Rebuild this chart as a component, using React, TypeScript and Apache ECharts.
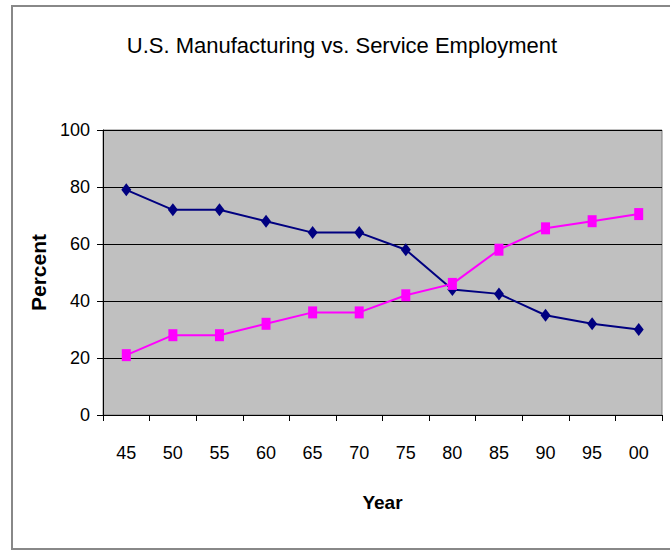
import React, { useEffect, useRef } from "react";
import * as echarts from "echarts";

const years = ["45", "50", "55", "60", "65", "70", "75", "80", "85", "90", "95", "00"];
const manufacturing = [79, 72, 72, 68, 64, 64, 58, 44, 42.5, 35, 32, 30];
const service = [21, 28, 28, 32, 36, 36, 42, 46, 58, 65.5, 68, 70.5];

const FONT = "'Liberation Sans', Arial, sans-serif";

export default function App() {
  const ref = useRef<HTMLDivElement>(null);
  useEffect(() => {
    const chart = echarts.init(ref.current!, null, { renderer: "svg" });
    chart.setOption({
      animation: false,
      backgroundColor: "#ffffff",
      title: {
        text: "U.S. Manufacturing vs. Service Employment",
        left: 337,
        top: 29,
        textAlign: "center",
        textStyle: { fontFamily: FONT, fontSize: 22, fontWeight: "normal", color: "#000" },
      },
      graphic: [
        {
          type: "rect",
          shape: { x: 12, y: 6, width: 700, height: 543 },
          style: { fill: "none", stroke: "#888", lineWidth: 2 },
          silent: true,
        },
      ],
      grid: {
        left: 103,
        right: 8,
        top: 130,
        bottom: 135,
        show: true,
        backgroundColor: "#c0c0c0",
        borderColor: "#808080",
        borderWidth: 1,
      },
      xAxis: {
        type: "category",
        data: years,
        boundaryGap: true,
        name: "Year",
        nameLocation: "middle",
        nameGap: 78,
        nameTextStyle: { fontFamily: FONT, fontSize: 19, fontWeight: "bold", color: "#000" },
        axisLine: { lineStyle: { color: "#000", width: 1 } },
        axisTick: { show: true, alignWithLabel: false, length: 6, lineStyle: { color: "#000" } },
        axisLabel: { fontFamily: FONT, fontSize: 18, color: "#000", margin: 29 },
        splitLine: { show: false },
      },
      yAxis: {
        type: "value",
        min: 0,
        max: 100,
        interval: 20,
        name: "Percent",
        nameLocation: "middle",
        nameGap: 48,
        nameRotate: 90,
        nameTextStyle: { fontFamily: FONT, fontSize: 21, fontWeight: "bold", color: "#000" },
        axisLine: { show: true, lineStyle: { color: "#000", width: 1 } },
        axisTick: { show: true, length: 6, lineStyle: { color: "#000" } },
        axisLabel: { fontFamily: FONT, fontSize: 18, color: "#000", margin: 13 },
        splitLine: { show: true, lineStyle: { color: "#000", width: 1 } },
      },
      series: [
        {
          name: "Manufacturing",
          type: "line",
          data: manufacturing,
          symbol: "diamond",
          symbolSize: [10, 13],
          itemStyle: { color: "#000080" },
          lineStyle: { color: "#000080", width: 2 },
        },
        {
          name: "Service",
          type: "line",
          data: service,
          symbol: "rect",
          symbolSize: [9, 12],
          itemStyle: { color: "#ff00ff" },
          lineStyle: { color: "#ff00ff", width: 2 },
        },
      ],
    });
    return () => chart.dispose();
  }, []);
  return (
    <div
      ref={ref}
      style={{ position: "fixed", left: 0, top: 0, width: 670, height: 550 }}
    />
  );
}
